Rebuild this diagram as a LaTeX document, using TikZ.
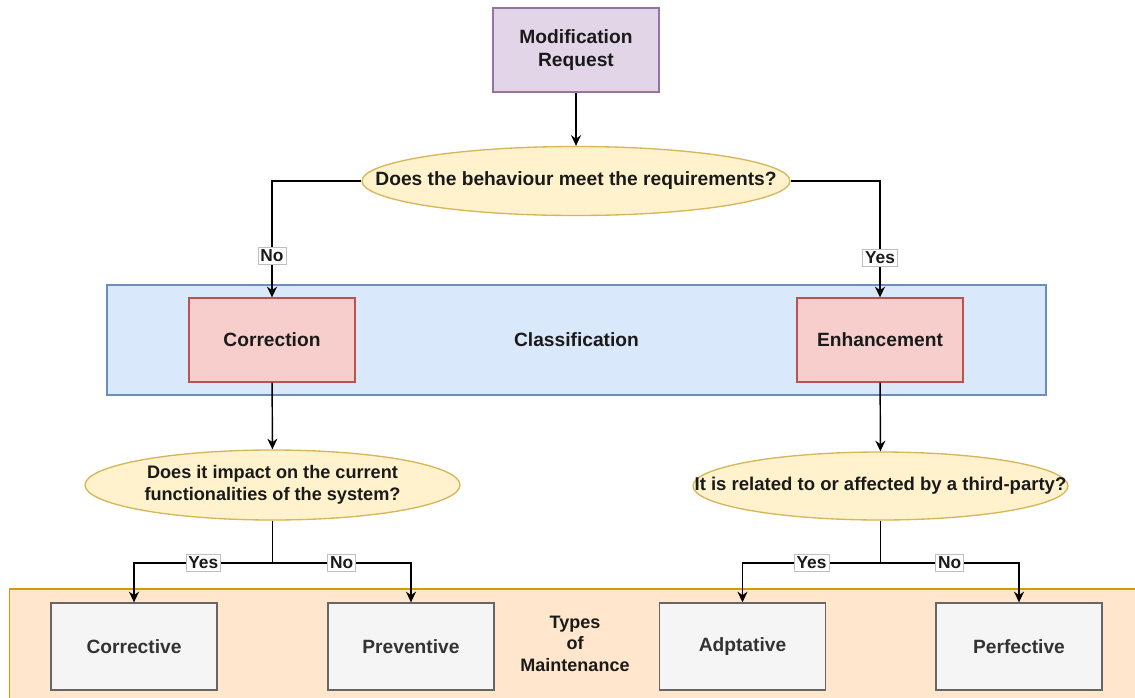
\documentclass[tikz,border=0pt]{standalone}
\usepackage{fontspec}
\setmainfont{Liberation Sans}
\usetikzlibrary{shapes.geometric,arrows.meta}

\definecolor{reqFill}{HTML}{E1D5E7}
\definecolor{reqLine}{HTML}{9673A6}
\definecolor{decFill}{HTML}{FFF2CC}
\definecolor{decLine}{HTML}{D6B656}
\definecolor{clsFill}{HTML}{DAE8FC}
\definecolor{clsLine}{HTML}{6C8EBF}
\definecolor{catFill}{HTML}{F8CECC}
\definecolor{catLine}{HTML}{B85450}
\definecolor{mntFill}{HTML}{FFE6CC}
\definecolor{mntLine}{HTML}{D79B00}
\definecolor{typFill}{HTML}{F5F5F5}
\definecolor{typLine}{HTML}{666666}
\definecolor{typText}{HTML}{333333}
\definecolor{ink}{HTML}{1A1A1A}

\begin{document}
\begin{tikzpicture}[
  x=0.75pt, y=-0.75pt,
  every node/.style={font=\fontsize{14.4}{17.2}\selectfont\bfseries, text=ink},
  rbox/.style={rectangle, draw, line width=1pt, minimum width=124.5pt,
               minimum height=63pt, align=center},
  reqbox/.style={rbox, fill=reqFill, draw=reqLine},
  catbox/.style={rbox, fill=catFill, draw=catLine},
  typbox/.style={rbox, fill=typFill, draw=typLine, text=typText,
                 minimum height=65.25pt},
  dec/.style={ellipse, fill=decFill, draw=decLine, line width=1pt, inner sep=0pt},
  dectext/.style={align=center, inner sep=0pt},
  area/.style={rectangle, line width=1pt, inner sep=0pt},
  arr/.style={draw=black, line width=1.1pt, -{Stealth[length=8pt,width=7.5pt]}},
  wire/.style={draw=black, line width=1.1pt},
  lbl/.style={fill=white, draw=black!25, line width=0.5pt, inner sep=1.8pt,
              font=\fontsize{13}{15}\selectfont\bfseries}
]
\useasboundingbox (0,0) rectangle (1135,697);
\clip (0,0) rectangle (1135,697);

% background areas
\node[area, fill=clsFill, draw=clsLine, minimum width=704.25pt, minimum height=82.5pt]
  (cls) at (576.5,340) {Classification};
\node[area, fill=mntFill, draw=mntLine, minimum width=850pt, minimum height=84pt]
  (mnt) at (576,645) {};
\node[align=center, font=\fontsize{13.5}{16.2}\selectfont\bfseries] (mntt) at (575,643.5)
  {Types\\of\\Maintenance};

% request and first decision
\node[reqbox] (req) at (576,50) {Modification\\Request};
\node[dec, minimum width=321pt, minimum height=51.75pt] (q1) at (576,181) {};
\node[dectext] (q1t) at (q1) {Does the behaviour meet the requirements?};

% classification
\node[catbox] (corr) at (272,340) {Correction};
\node[catbox] (enh) at (880,340) {Enhancement};

% second-level decisions
\node[dec, minimum width=281.25pt, minimum height=52.5pt] (q2) at (272.5,485) {};
\node[dectext, font=\fontsize{13.6}{16.5}\selectfont\bfseries] (q2t) at (q2)
  {Does it impact on the current\\functionalities of the system?};
\node[dec, minimum width=281.25pt, minimum height=51pt] (q3) at (880.5,486) {};
\node[dectext, font=\fontsize{13.9}{16.5}\selectfont\bfseries] (q3t) at (q3)
  {It is related to or affected by a third-party?};

% maintenance types
\node[typbox] (cor) at (134,646.5) {Corrective};
\node[typbox] (pre) at (411,646.5) {Preventive};
\node[typbox] (adp) at (742.5,646.5) {Adptative};
\node[typbox] (per) at (1019,646.5) {Perfective};

% connectors
\draw[arr] (req) -- (q1);
\draw[arr] (q1.west) -| node[lbl, pos=0.82] {No} (corr.north);
\draw[arr] (q1.east) -| node[lbl, pos=0.83] {Yes} (enh.north);
\draw[arr] (corr) -- (q2);
\draw[arr] (enh) -- (q3);

\coordinate (j2) at (272.5,563);
\coordinate (j3) at (880.5,563);
\draw[wire] (q2.south) -- (j2);
\draw[wire] (q3.south) -- (j3);
\draw[arr] (j2) -| node[lbl, pos=0.25] {Yes} (cor.north);
\draw[arr] (j2) -| node[lbl, pos=0.25] {No} (pre.north);
\draw[arr] (j3) -| node[lbl, pos=0.25] {Yes} (adp.north);
\draw[arr] (j3) -| node[lbl, pos=0.25] {No} (per.north);
\end{tikzpicture}
\end{document}
